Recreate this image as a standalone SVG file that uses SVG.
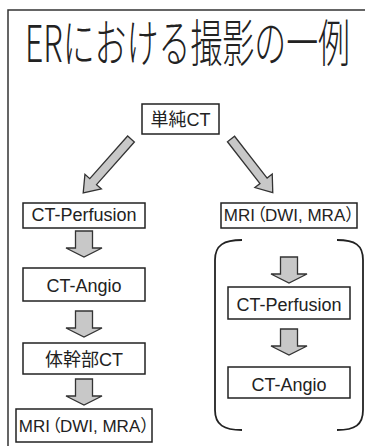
<svg xmlns="http://www.w3.org/2000/svg" xmlns:xlink="http://www.w3.org/1999/xlink" width="365" height="446" viewBox="0 0 365 446">
<style>
.box{fill:#fff;stroke:#222;stroke-width:1.5}
.lbl{font-family:'Liberation Sans','Noto Sans CJK JP',sans-serif;font-size:18px;fill:#222;text-anchor:middle}
.mri{font-size:17px}
.arr{fill:#c8c8c8;stroke:#333;stroke-width:1.3;stroke-linejoin:miter}
.brk{fill:none;stroke:#222;stroke-width:1.8}
</style>
<defs>
<path id="darr" d="M -8.5 0 H 8.5 V 17 H 18 L 0 26 L -18 17 H -8.5 Z"/>
</defs>
<rect width="365" height="446" fill="#fff"/>
<path d="M 8 446 V 10 H 365" fill="none" stroke="#333" stroke-width="1.5"/>
<text x="25" y="62" textLength="325" lengthAdjust="spacingAndGlyphs" font-family="'Noto Sans CJK JP',sans-serif" font-size="51" font-weight="300" fill="#222">ERにおける撮影の一例</text>

<g id="connectors">
<path class="arr" transform="translate(131,139) rotate(131.6)" d="M 0 -4.5 H 57 V -11 L 72 0 L 57 11 V 4.5 H 0 Z"/>
<path class="arr" transform="translate(231,139) rotate(52.1)" d="M 0 -4.5 H 53 V -11 L 68 0 L 53 11 V 4.5 H 0 Z"/>
<use xlink:href="#darr" class="arr" transform="translate(84,231)"/>
<use xlink:href="#darr" class="arr" transform="translate(84,311)"/>
<use xlink:href="#darr" class="arr" transform="translate(84,379)"/>
<use xlink:href="#darr" class="arr" transform="translate(289,257)"/>
<use xlink:href="#darr" class="arr" transform="translate(289,329)"/>
<path class="brk" d="M 242 240 C 224 240 215 245 215 260 V 410 C 215 425 224 430 242 430"/>
<path class="brk" d="M 337 240 C 355 240 363 245 363 260 V 410 C 363 425 355 430 337 430"/>
</g>

<g id="n-plain-ct">
<rect class="box" x="142" y="104" width="77" height="30"/>
<text class="lbl" x="180.5" y="126">単純CT</text>
</g>
<g id="n-ct-perfusion-l">
<rect class="box" x="23" y="203" width="122" height="25"/>
<text class="lbl" x="84" y="221">CT-Perfusion</text>
</g>
<g id="n-ct-angio-l">
<rect class="box" x="23" y="268" width="122" height="33"/>
<text class="lbl" x="84" y="292">CT-Angio</text>
</g>
<g id="n-trunk-ct">
<rect class="box" x="23" y="343" width="122" height="31"/>
<text class="lbl" x="84" y="366">体幹部CT</text>
</g>
<g id="n-mri-l">
<rect class="box" x="16" y="409" width="136" height="33"/>
<text class="lbl mri" x="88" y="432" dx="0 0 0 -6 -1">MRI（DWI, MRA）</text>
</g>
<g id="n-mri-r">
<rect class="box" x="221" y="203" width="136" height="25"/>
<text class="lbl mri" x="293" y="221" dx="0 0 0 -6 -1">MRI（DWI, MRA）</text>
</g>
<g id="n-ct-perfusion-r">
<rect class="box" x="228" y="287" width="122" height="32"/>
<text class="lbl" x="289" y="311">CT-Perfusion</text>
</g>
<g id="n-ct-angio-r">
<rect class="box" x="228" y="367" width="122" height="31"/>
<text class="lbl" x="289" y="391">CT-Angio</text>
</g>
</svg>
